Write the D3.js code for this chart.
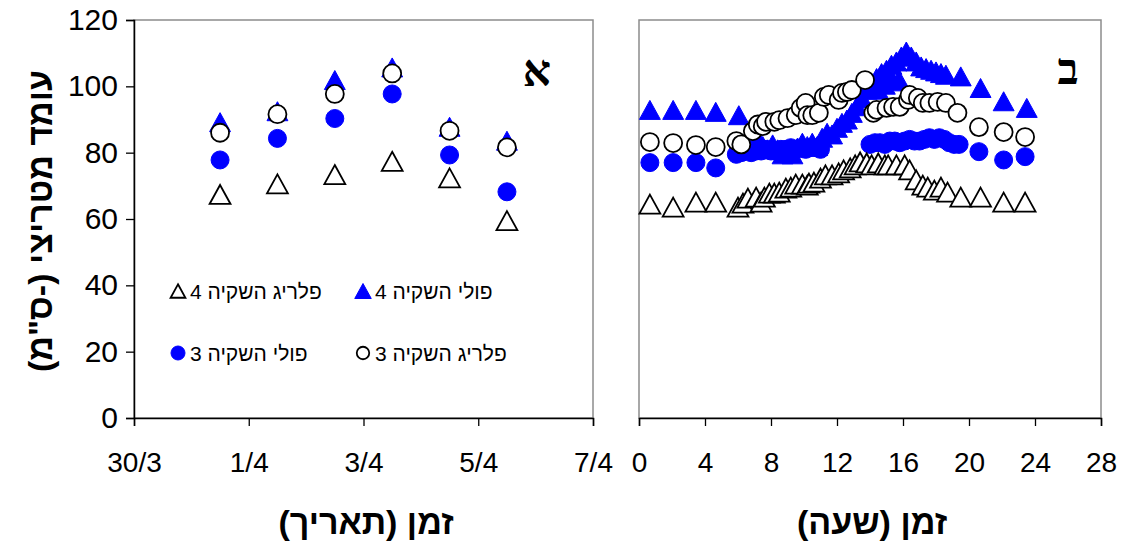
<!DOCTYPE html>
<html>
<head>
<meta charset="utf-8">
<script src="https://cdn.jsdelivr.net/npm/d3@7"></script>
<style>
  body { margin: 0; background: #fff; }
  svg { display: block; }
  text { font-family: "Liberation Sans", Arial, sans-serif; fill: #000; }
</style>
</head>
<body>
<svg id="chart" width="1125" height="544"></svg>
<script>
// ---------- data ----------
// axis ticks
const valueTicks = [0, 20, 40, 60, 80, 100, 120];
const dateTickValues = [0, 2, 4, 6, 8];           // days after 30/3
const dateTickLabels = ["30/3", "1/4", "3/4", "5/4", "7/4"];
const hourTickValues = [0, 4, 8, 12, 16, 20, 24, 28];

// series names
const seriesNames = {
  polyIrr4: "פולי השקיה 4",
  plrIrr4: "פלריג השקיה 4",
  polyIrr3: "פולי השקיה 3",
  plrIrr3: "פלריג השקיה 3"
};

// panel א : daily means (day offset from 30/3)
const dailyDays = [1.5, 2.5, 3.5, 4.5, 5.5, 6.5];
const dailyPolyIrr4 = [89.2, 92.5, 101.9, 105.7, 87.8, 83.6];
const dailyPlrIrr3  = [86.0, 91.6, 97.7, 103.9, 86.6, 81.6];
const dailyPolyIrr3 = [77.8, 84.3, 90.3, 97.7, 79.3, 68.2];
const dailyPlrIrr4  = [67.4, 70.6, 73.4, 77.4, 72.4, 59.5];

// panel ב : diurnal course, [hour, value]
const hourlyPolyIrr4 = [
  [0.66, 92.9], [2.07, 92.9], [3.45, 92.9], [4.65, 92.3],
  [6.05, 91.3], [6.3, 82.5], [6.6, 81], [6.9, 82], [7.2, 84], [7.5, 82], [7.8, 81],
  [8.1, 82.5], [8.4, 81], [8.7, 79.5], [9.0, 80], [9.3, 79.5], [9.6, 81.5], [9.9, 83],
  [10.2, 82], [10.5, 83], [10.8, 82], [11.1, 84.5], [11.4, 86], [11.7, 85.5], [12.0, 87.5],
  [12.3, 89], [12.6, 90], [12.9, 92], [13.2, 94], [13.5, 96.5], [13.8, 99], [14.1, 101],
  [14.4, 102.5], [14.5, 99], [14.7, 104], [14.9, 100.5], [15.0, 105], [15.3, 106.5],
  [15.35, 101.5], [15.6, 107.5], [15.75, 102], [15.9, 109], [16.2, 110.5], [16.5, 109],
  [16.8, 107.5], [17.1, 106], [17.4, 105.5], [17.7, 105], [18.0, 104.5], [18.3, 104],
  [18.6, 103.5], [19.5, 103], [20.7, 99.5], [22.1, 95.5], [23.5, 93.5]
];
const hourlyPolyIrr3 = [
  [0.66, 77], [2.07, 77], [3.45, 77], [4.65, 75.4],
  [5.9, 79.5], [6.2, 80], [6.5, 80.5], [6.8, 80], [7.1, 80.5], [7.4, 80.5], [7.7, 81],
  [8.0, 80.5], [8.3, 80.5], [8.6, 81], [8.9, 81], [9.2, 81.5], [9.5, 81], [9.8, 81.5],
  [10.1, 81], [10.4, 81.5], [10.7, 81.5], [11.0, 81],
  [14.0, 82.5], [14.3, 83], [14.6, 83], [14.9, 82.5], [15.2, 83.5], [15.5, 83.5],
  [15.8, 83], [16.1, 83.5], [16.4, 84], [16.7, 83.5], [17.0, 83.5], [17.3, 84],
  [17.6, 84.5], [17.9, 84], [18.2, 84.5], [18.5, 84], [18.8, 83], [19.1, 82.5], [19.4, 82.5],
  [20.6, 80.3], [22.1, 77.8], [23.4, 78.8]
];
const hourlyPlrIrr4 = [
  [0.66, 64.5], [2.07, 63.6], [3.45, 65.1], [4.65, 65.1],
  [6.0, 63.6], [6.3, 64.8], [6.6, 66.3], [7.1, 66.6], [7.4, 65.1], [7.6, 66.6], [7.9, 67.8],
  [8.2, 67.8], [8.5, 68.1], [8.9, 69.3], [9.2, 69.6], [9.5, 70.5], [9.9, 70.5], [10.2, 70.2],
  [10.3, 70.8], [10.6, 71.1], [11.0, 72.3], [11.3, 73.3], [11.7, 73.3], [12.1, 73.9],
  [12.4, 74.8], [12.8, 75.4], [13.1, 76.3], [13.4, 77.2], [13.8, 76.9], [14.1, 76.3],
  [14.5, 76.9], [14.9, 76.3], [15.1, 76.3], [15.6, 76.3], [16.1, 76.3], [16.4, 74.8],
  [16.8, 71.8], [17.2, 70.2], [17.5, 69.6], [17.9, 68.7], [18.3, 69.6], [18.7, 68.1],
  [19.5, 66.6], [20.7, 66.6], [22.1, 65.1], [23.4, 65.1]
];
const hourlyPlrIrr3 = [
  [0.66, 83.2], [2.07, 82.9], [3.45, 82.3], [4.65, 81.7],
  [5.9, 83.5], [6.2, 82.5], [6.9, 86.5], [7.2, 88.5], [7.5, 88], [7.7, 89.3], [8.2, 89.3],
  [8.5, 89.8], [9.0, 90.4], [9.5, 91.3], [9.8, 93.5], [10.1, 95], [10.2, 91.3], [10.5, 91.3],
  [10.9, 92], [11.2, 96.8], [11.5, 97.4], [12.1, 95.9], [12.3, 98], [12.6, 98.3], [12.9, 98.9],
  [13.7, 101.9], [14.2, 92], [14.4, 92.9], [15.0, 93.5], [15.4, 93.8], [15.8, 93.8],
  [16.3, 95.9], [16.4, 97.4], [16.9, 96.5], [17.2, 95], [17.6, 95], [18.1, 95.3], [18.6, 95],
  [19.3, 92], [20.6, 87.7], [22.1, 86.2], [23.4, 84.7]
];

// ---------- layout ----------
const BLUE = "#0000ff";
const FRAME = "#8c8c8c";
const svg = d3.select("#chart");

const y = d3.scaleLinear().domain([0, 120]).range([418, 20]);
const xDate = d3.scaleLinear().domain([0, 8]).range([134, 593]);
const xHour = d3.scaleLinear().domain([0, 28]).range([639, 1101]);

// triangle centred on its bounding box
function triPath(cx, cy, w, h) {
  return `M${cx},${cy - h / 2}L${cx + w / 2},${cy + h / 2}L${cx - w / 2},${cy + h / 2}Z`;
}

const markerStyles = {
  polyIrr4: { shape: "tri", fill: BLUE, stroke: BLUE, sw: 1 },
  polyIrr3: { shape: "circ", fill: BLUE, stroke: BLUE, sw: 1 },
  plrIrr4:  { shape: "tri", fill: "#fff", stroke: "#000", sw: 1.8 },
  plrIrr3:  { shape: "circ", fill: "#fff", stroke: "#000", sw: 1.8 }
};

function drawMarkers(g, pts, key, size) {
  const st = markerStyles[key];
  const sel = g.append("g");
  pts.forEach(([px, py]) => {
    if (st.shape === "tri") {
      sel.append("path")
        .attr("d", triPath(px, py, size * 1.1, size))
        .attr("fill", st.fill).attr("stroke", st.stroke)
        .attr("stroke-width", st.sw).attr("stroke-linejoin", "miter");
    } else {
      sel.append("circle")
        .attr("cx", px).attr("cy", py).attr("r", size / 2 - 0.5)
        .attr("fill", st.fill).attr("stroke", st.stroke)
        .attr("stroke-width", st.sw);
    }
  });
}

// ---------- frames ----------
function frame(x0, x1) {
  svg.append("rect")
    .attr("x", x0).attr("y", y(120))
    .attr("width", x1 - x0).attr("height", y(0) - y(120))
    .attr("fill", "none").attr("stroke", FRAME).attr("stroke-width", 1.5);
}
frame(xDate(0), xDate(8));
frame(xHour(0), xHour(28));

// ---------- axes ----------
const tickFont = 28;

// left value axis
const yAxis = svg.append("g")
  .attr("transform", `translate(${xDate(0)},0)`)
  .call(d3.axisLeft(y).tickValues(valueTicks).tickSize(8).tickPadding(8));
yAxis.select(".domain").attr("stroke", "#000").attr("stroke-width", 1.5);
yAxis.selectAll(".tick line").attr("stroke", "#000").attr("stroke-width", 1.3);
yAxis.selectAll(".tick text")
  .style("font-family", "'Liberation Sans', Arial, sans-serif")
  .style("font-size", "30px");

// date axis
const xDateAxis = svg.append("g")
  .attr("transform", `translate(0,${y(0)})`)
  .call(d3.axisBottom(xDate).tickValues(dateTickValues)
    .tickFormat((d, i) => dateTickLabels[i]).tickSize(8).tickPadding(26));
// hour axis
const xHourAxis = svg.append("g")
  .attr("transform", `translate(0,${y(0)})`)
  .call(d3.axisBottom(xHour).tickValues(hourTickValues).tickSize(8).tickPadding(26));

[xDateAxis, xHourAxis].forEach(ax => {
  ax.select(".domain").attr("stroke", "#000").attr("stroke-width", 1.5);
  ax.selectAll(".tick line").attr("stroke", "#000").attr("stroke-width", 1.3);
  ax.selectAll(".tick text")
    .style("font-family", "'Liberation Sans', Arial, sans-serif")
    .style("font-size", tickFont + "px");
});

// ---------- titles ----------
svg.append("text")
  .attr("transform", "translate(52,221) rotate(-90)")
  .attr("text-anchor", "middle").attr("direction", "rtl")
  .style("font-size", "34px").style("font-weight", "bold")
  .text('עומד מטריצי (-ס"מ)');

svg.append("text")
  .attr("x", 366).attr("y", 534)
  .attr("text-anchor", "middle").attr("direction", "rtl")
  .style("font-size", "34px").style("font-weight", "bold")
  .text("זמן (תאריך)");

svg.append("text")
  .attr("x", 872).attr("y", 534)
  .attr("text-anchor", "middle").attr("direction", "rtl")
  .style("font-size", "34px").style("font-weight", "bold")
  .text("זמן (שעה)");

// panel letters
svg.append("text")
  .attr("x", 537).attr("y", 86)
  .attr("text-anchor", "middle")
  .style("font-size", "44px").style("font-weight", "bold")
  .style("font-family", "'Liberation Serif', 'DejaVu Serif', serif")
  .text("א");
svg.append("text")
  .attr("x", 1068).attr("y", 84)
  .attr("text-anchor", "middle")
  .style("font-size", "44px").style("font-weight", "bold")
  .style("font-family", "'Liberation Serif', 'DejaVu Serif', serif")
  .text("ב");

// ---------- panel א ----------
const gA = svg.append("g");
const daily = (vals) => dailyDays.map((d, i) => [xDate(d), y(vals[i])]);
drawMarkers(gA, daily(dailyPolyIrr4), "polyIrr4", 19);
drawMarkers(gA, daily(dailyPolyIrr3), "polyIrr3", 19);
drawMarkers(gA, daily(dailyPlrIrr4), "plrIrr4", 19);
drawMarkers(gA, daily(dailyPlrIrr3), "plrIrr3", 19);

// legend
const legendItems = [
  { key: "plrIrr4",  mx: 178, yy: 291 },
  { key: "polyIrr4", mx: 363, yy: 291 },
  { key: "polyIrr3", mx: 178, yy: 353 },
  { key: "plrIrr3",  mx: 363, yy: 353 }
];
legendItems.forEach(it => {
  drawMarkers(gA, [[it.mx, it.yy]], it.key, it.key.startsWith("poly") ? 15 : 13.5);
  gA.append("text")
    .attr("x", it.mx + 12).attr("y", it.yy + 8)
    .attr("direction", "rtl").attr("text-anchor", "end")
    .style("font-size", "21px")
    .text(seriesNames[it.key]);
});

// ---------- panel ב ----------
const gB = svg.append("g");
const hourly = (pts) => pts.map(([h, v]) => [xHour(h), y(v)]);
drawMarkers(gB, hourly(hourlyPolyIrr4), "polyIrr4", 19);
drawMarkers(gB, hourly(hourlyPolyIrr3), "polyIrr3", 19);
drawMarkers(gB, hourly(hourlyPlrIrr4), "plrIrr4", 19);
drawMarkers(gB, hourly(hourlyPlrIrr3), "plrIrr3", 19);
</script>
</body>
</html>
